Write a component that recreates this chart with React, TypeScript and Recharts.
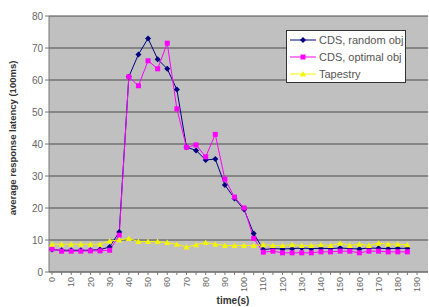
import React from 'react';
import { LineChart, Line, XAxis, YAxis, CartesianGrid } from 'recharts';

const times = [
  0, 5, 10, 15, 20, 25, 30, 35, 40, 45, 50, 55, 60, 65, 70, 75, 80, 85, 90,
  95, 100, 105, 110, 115, 120, 125, 130, 135, 140, 145, 150, 155, 160, 165,
  170, 175, 180, 185,
];

const randomObj = [
  7.0, 6.8, 6.8, 6.8, 6.8, 7.0, 7.8, 12.5, 61, 68, 73, 66.5, 63.5, 57, 39,
  38, 35, 35.3, 27.2, 23, 19.5, 12, 7.0, 7.3, 7.2, 7.3, 7.5, 7.3, 7.4, 7.3,
  7.5, 7.3, 7.2, 7.5, 7.4, 7.3, 7.4, 7.4,
];

const optimalObj = [
  7.2, 6.5, 6.5, 6.5, 6.6, 6.6, 6.8, 11.5, 61, 58.2, 66, 63.5, 71.5, 51, 39,
  39.7, 36, 43, 29, 23.4, 20, 10.5, 6.2, 6.5, 6.0, 6.0, 6.0, 6.0, 6.3, 6.3,
  6.5, 6.5, 6.0, 6.5, 6.5, 6.3, 6.3, 6.3,
];

const tapestry = [
  8.7, 8.7, 8.7, 8.7, 8.7, 8.7, 9.7, 10, 10.5, 9.5, 9.5, 9.5, 9.2, 8.7, 7.8,
  8.5, 9.2, 8.7, 8.3, 8.3, 8.3, 8.3, 8.5, 8.3, 8.3, 8.5, 8.3, 8.3, 8.5, 8.3,
  9.0, 8.3, 8.7, 8.3, 9.0, 8.7, 8.7, 8.5,
];

const xTicks = times.concat([190]);
const yTicks = [0, 10, 20, 30, 40, 50, 60, 70, 80];

const seriesNames = ['CDS, random obj', 'CDS, optimal obj', 'Tapestry'];

const data = times.map((t, i) => ({
  t,
  random: randomObj[i],
  optimal: optimalObj[i],
  tapestry: tapestry[i],
}));

const FONT = 'Arial, "Liberation Sans", sans-serif';

const Diamond = (props: any) => {
  const { cx, cy, fill } = props;
  if (cx == null || cy == null) return null;
  return <path d={`M${cx},${cy - 3}L${cx + 3},${cy}L${cx},${cy + 3}L${cx - 3},${cy}Z`} fill={fill} />;
};

const Square = (props: any) => {
  const { cx, cy, fill } = props;
  if (cx == null || cy == null) return null;
  return <rect x={cx - 2.5} y={cy - 2.5} width={5} height={5} fill={fill} />;
};

const Triangle = (props: any) => {
  const { cx, cy, fill } = props;
  if (cx == null || cy == null) return null;
  return <path d={`M${cx},${cy - 3}L${cx + 3},${cy + 2.5}L${cx - 3},${cy + 2.5}Z`} fill={fill} />;
};

const series = [
  { key: 'random', color: '#000080', Shape: Diamond },
  { key: 'optimal', color: '#ff00ff', Shape: Square },
  { key: 'tapestry', color: '#f5f500', Shape: Triangle },
];

const XTick = (props: any) => {
  const { x, y, payload } = props;
  if (payload.value % 10 !== 0) return null;
  return (
    <g transform={`translate(${x},${y})`}>
      <text transform="rotate(-90)" textAnchor="end" dy="0.35em" fontSize={9} fill="#666" fontFamily={FONT}>
        {payload.value}
      </text>
    </g>
  );
};

const App: React.FC = () => {
  return (
    <div style={{ position: 'absolute', left: 0, top: 0, width: 429, height: 307, background: '#fff' }}>
      <LineChart width={429} height={307} data={data} margin={{ top: 16, right: 1, bottom: 0, left: 0 }}>
        <CartesianGrid vertical={false} stroke="#4a4a4a" fill="#c0c0c0" />
        <XAxis
          dataKey="t"
          type="number"
          domain={[0, 190]}
          ticks={xTicks}
          interval={0}
          padding={{ left: 3, right: 11 }}
          height={35}
          tickSize={3}
          tickMargin={2}
          stroke="#777"
          tick={<XTick />}
          label={{
            value: 'time(s)',
            content: () => (
              <text x={233} y={304} textAnchor="middle" fontSize={10} fontWeight="bold" fill="#333" fontFamily={FONT}>
                time(s)
              </text>
            ),
          }}
        />
        <YAxis
          domain={[0, 80]}
          ticks={yTicks}
          width={49}
          tickSize={4}
          tickMargin={2}
          stroke="#777"
          tick={{ fontSize: 10, fill: '#666', fontFamily: FONT }}
          label={{
            value: 'average response latency (100ms)',
            content: () => (
              <text
                x={13}
                y={138}
                transform="rotate(-90 13 138)"
                textAnchor="middle"
                dy="0.35em"
                fontSize={9.5}
                fontWeight="bold"
                fill="#333"
                fontFamily={FONT}
              >
                average response latency (100ms)
              </text>
            ),
          }}
        />
        {series.map((s) => (
          <Line
            key={s.key}
            dataKey={s.key}
            stroke={s.color}
            strokeWidth={1}
            isAnimationActive={false}
            dot={<s.Shape fill={s.color} />}
            activeDot={false}
          />
        ))}
      </LineChart>
      <div
        style={{
          position: 'absolute',
          left: 286,
          top: 30,
          width: 118,
          height: 51,
          background: '#fff',
          border: '1px solid #333',
          fontFamily: FONT,
          fontSize: 11,
          color: '#555',
        }}
      >
        {series.map((s, i) => (
          <div key={s.key} style={{ position: 'absolute', left: 2, top: 2 + i * 17, height: 14, display: 'flex', alignItems: 'center' }}>
            <svg width={28} height={14}>
              <line x1={1} y1={7} x2={27} y2={7} stroke={s.color} strokeWidth={1} />
              <s.Shape cx={14} cy={7} fill={s.color} />
            </svg>
            <span style={{ marginLeft: 2, whiteSpace: 'nowrap' }}>{seriesNames[i]}</span>
          </div>
        ))}
      </div>
    </div>
  );
};

export default App;
